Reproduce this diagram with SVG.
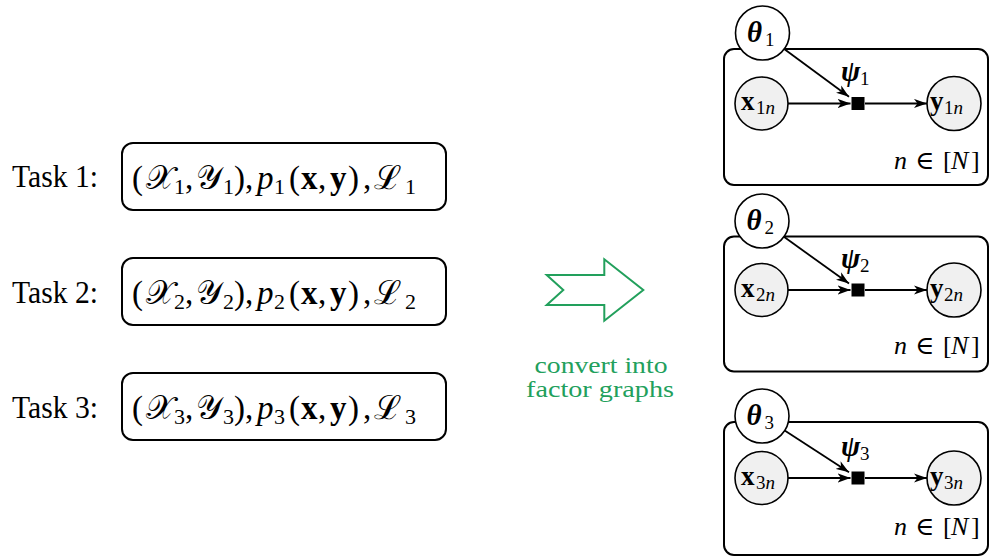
<svg xmlns="http://www.w3.org/2000/svg" width="990" height="557" viewBox="0 0 990 557">
  <style>
    text { font-family: "Liberation Serif", "DejaVu Serif", serif; fill: #000; }
    .task { font-size: 31px; }
    .math { font-size: 33px; }
    .sub { font-size: 22px; }
    .box { fill: #fff; stroke: #000; stroke-width: 2; }
    .plate { fill: none; stroke: #000; stroke-width: 2; }
    .latent { fill: #fff; stroke: #000; stroke-width: 1.6; }
    .obs { fill: #f0f0f0; stroke: #000; stroke-width: 1.6; }
    .edge { fill: none; stroke: #000; stroke-width: 1.8; marker-end: url(#tip); }
    .bi { font-weight: bold; font-style: italic; }
    .b { font-weight: bold; }
    .i { font-style: italic; }
    .greek { font-size: 29px; }
    .var { font-size: 27px; }
    .lsub { font-size: 19px; }
    .plate-lbl { font-size: 26px; }
    .green { fill: #22a05c; font-size: 24px; }
  </style>
  <defs>
    <marker id="tip" viewBox="0 0 13 10" refX="13" refY="5" markerWidth="13" markerHeight="10" markerUnits="userSpaceOnUse" orient="auto">
      <path d="M0,0.4 L13,5 L0,9.6 L3.5,5 z" fill="#000"/>
    </marker>
  </defs>

  <!-- task descriptions -->
  <g id="task1">
    <text class="task" x="12" y="187" textLength="86" lengthAdjust="spacingAndGlyphs">Task 1:</text>
    <rect class="box" x="122" y="143" width="324" height="67" rx="11"/>
    <text class="math" y="189">
      <tspan x="132">(</tspan><tspan x="146">𝒳</tspan><tspan x="174" dy="5" class="sub">1</tspan><tspan x="185" dy="-5">,</tspan><tspan x="196">𝒴</tspan><tspan x="223" dy="5" class="sub">1</tspan><tspan x="234" dy="-5">),</tspan><tspan x="257" class="i">p</tspan><tspan x="274" dy="5" class="sub">1</tspan><tspan x="289" dy="-5">(</tspan><tspan x="301" class="b">x</tspan><tspan x="318">,</tspan><tspan x="330" class="b">y</tspan><tspan x="348">)</tspan><tspan x="363">,</tspan><tspan x="374">ℒ</tspan><tspan x="405" dy="5" class="sub">1</tspan>
    </text>
  </g>
  <g id="task2">
    <text class="task" x="12" y="303" textLength="86" lengthAdjust="spacingAndGlyphs">Task 2:</text>
    <rect class="box" x="122" y="258" width="324" height="67" rx="11"/>
    <text class="math" y="304">
      <tspan x="132">(</tspan><tspan x="146">𝒳</tspan><tspan x="174" dy="5" class="sub">2</tspan><tspan x="185" dy="-5">,</tspan><tspan x="196">𝒴</tspan><tspan x="223" dy="5" class="sub">2</tspan><tspan x="234" dy="-5">),</tspan><tspan x="257" class="i">p</tspan><tspan x="274" dy="5" class="sub">2</tspan><tspan x="289" dy="-5">(</tspan><tspan x="301" class="b">x</tspan><tspan x="318">,</tspan><tspan x="330" class="b">y</tspan><tspan x="348">)</tspan><tspan x="363">,</tspan><tspan x="374">ℒ</tspan><tspan x="405" dy="5" class="sub">2</tspan>
    </text>
  </g>
  <g id="task3">
    <text class="task" x="12" y="418" textLength="86" lengthAdjust="spacingAndGlyphs">Task 3:</text>
    <rect class="box" x="122" y="373" width="324" height="67" rx="11"/>
    <text class="math" y="419">
      <tspan x="132">(</tspan><tspan x="146">𝒳</tspan><tspan x="174" dy="5" class="sub">3</tspan><tspan x="185" dy="-5">,</tspan><tspan x="196">𝒴</tspan><tspan x="223" dy="5" class="sub">3</tspan><tspan x="234" dy="-5">),</tspan><tspan x="257" class="i">p</tspan><tspan x="274" dy="5" class="sub">3</tspan><tspan x="289" dy="-5">(</tspan><tspan x="301" class="b">x</tspan><tspan x="318">,</tspan><tspan x="330" class="b">y</tspan><tspan x="348">)</tspan><tspan x="363">,</tspan><tspan x="374">ℒ</tspan><tspan x="405" dy="5" class="sub">3</tspan>
    </text>
  </g>

  <!-- conversion arrow -->
  <g id="convert">
    <path d="M546.7,275 L604.3,275 L604.3,259.3 L643.3,290 L604.3,320.7 L604.3,305 L546.7,305 L563.3,290 Z" fill="none" stroke="#22a05c" stroke-width="2"/>
    <text class="green" x="601" y="373" text-anchor="middle" textLength="133" lengthAdjust="spacingAndGlyphs">convert into</text>
    <text class="green" x="600" y="397" text-anchor="middle" textLength="148" lengthAdjust="spacingAndGlyphs">factor graphs</text>
  </g>

  <!-- factor graph 1 -->
  <g id="graph1">
    <rect class="plate" x="724" y="49" width="264" height="136" rx="10"/>
    <g id="theta1">
      <circle class="latent" cx="762.5" cy="33" r="27"/>
      <text y="42"><tspan x="747" class="bi greek">θ</tspan><tspan x="765" dy="4" class="lsub">1</tspan></text>
    </g>
    <g id="x1n">
      <circle class="obs" cx="761.5" cy="103.5" r="26.5"/>
      <text y="110"><tspan x="741" class="b var">x</tspan><tspan x="756" dy="4" class="lsub">1</tspan><tspan class="lsub i">n</tspan></text>
    </g>
    <g id="psi1">
      <rect x="851.5" y="97" width="13" height="13" fill="#000"/>
      <text y="81"><tspan x="841" class="bi greek">ψ</tspan><tspan x="860" dy="4" class="lsub">1</tspan></text>
    </g>
    <g id="y1n">
      <circle class="obs" cx="954" cy="103.5" r="27"/>
      <text y="110"><tspan x="930" class="b var">y</tspan><tspan x="944" dy="4" class="lsub">1</tspan><tspan class="lsub i">n</tspan></text>
    </g>
    <text class="plate-lbl" y="169"><tspan x="894" class="i">n</tspan><tspan x="915">∈</tspan><tspan x="943">[</tspan><tspan x="951" class="i">N</tspan><tspan x="971">]</tspan></text>
  </g>

  <!-- factor graph 2 -->
  <g id="graph2">
    <rect class="plate" x="724" y="236.5" width="264" height="135" rx="10"/>
    <g id="theta2">
      <circle class="latent" cx="762" cy="221" r="27"/>
      <text y="230"><tspan x="746.5" class="bi greek">θ</tspan><tspan x="764.5" dy="4" class="lsub">2</tspan></text>
    </g>
    <g id="x2n">
      <circle class="obs" cx="761.5" cy="290" r="26.5"/>
      <text y="296.5"><tspan x="741" class="b var">x</tspan><tspan x="756" dy="4" class="lsub">2</tspan><tspan class="lsub i">n</tspan></text>
    </g>
    <g id="psi2">
      <rect x="851.5" y="283.5" width="13" height="13" fill="#000"/>
      <text y="267.5"><tspan x="841" class="bi greek">ψ</tspan><tspan x="860" dy="4" class="lsub">2</tspan></text>
    </g>
    <g id="y2n">
      <circle class="obs" cx="954" cy="290" r="27"/>
      <text y="296.5"><tspan x="930" class="b var">y</tspan><tspan x="944" dy="4" class="lsub">2</tspan><tspan class="lsub i">n</tspan></text>
    </g>
    <text class="plate-lbl" y="354"><tspan x="894" class="i">n</tspan><tspan x="915">∈</tspan><tspan x="943">[</tspan><tspan x="951" class="i">N</tspan><tspan x="971">]</tspan></text>
  </g>

  <!-- factor graph 3 -->
  <g id="graph3">
    <rect class="plate" x="724" y="422" width="264" height="133" rx="10"/>
    <g id="theta3">
      <circle class="latent" cx="762" cy="416" r="27"/>
      <text y="425"><tspan x="746.5" class="bi greek">θ</tspan><tspan x="764.5" dy="4" class="lsub">3</tspan></text>
    </g>
    <g id="x3n">
      <circle class="obs" cx="761.5" cy="478" r="26.5"/>
      <text y="484.5"><tspan x="741" class="b var">x</tspan><tspan x="756" dy="4" class="lsub">3</tspan><tspan class="lsub i">n</tspan></text>
    </g>
    <g id="psi3">
      <rect x="851.5" y="471.5" width="13" height="13" fill="#000"/>
      <text y="455.5"><tspan x="841" class="bi greek">ψ</tspan><tspan x="860" dy="4" class="lsub">3</tspan></text>
    </g>
    <g id="y3n">
      <circle class="obs" cx="954" cy="478" r="27"/>
      <text y="484.5"><tspan x="930" class="b var">y</tspan><tspan x="944" dy="4" class="lsub">3</tspan><tspan class="lsub i">n</tspan></text>
    </g>
    <text class="plate-lbl" y="535"><tspan x="894" class="i">n</tspan><tspan x="915">∈</tspan><tspan x="943">[</tspan><tspan x="951" class="i">N</tspan><tspan x="971">]</tspan></text>
  </g>

  <!-- connectors -->
  <g id="edges">
    <line class="edge" x1="784.2" y1="49" x2="849" y2="96.8"/>
    <line class="edge" x1="788" y1="103.5" x2="850.5" y2="103.5"/>
    <line class="edge" x1="865" y1="103.5" x2="927" y2="103.5"/>

    <line class="edge" x1="783.9" y1="236.8" x2="849" y2="283.6"/>
    <line class="edge" x1="788" y1="290" x2="850.5" y2="290"/>
    <line class="edge" x1="865" y1="290" x2="927" y2="290"/>

    <line class="edge" x1="784.7" y1="430.6" x2="849" y2="472.2"/>
    <line class="edge" x1="788" y1="478" x2="850.5" y2="478"/>
    <line class="edge" x1="865" y1="478" x2="927" y2="478"/>
  </g>
</svg>
